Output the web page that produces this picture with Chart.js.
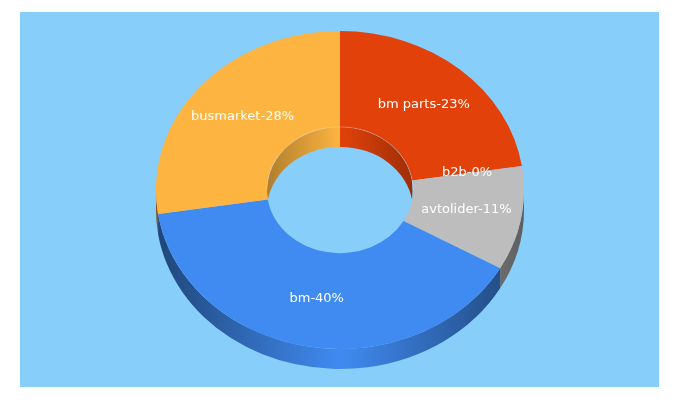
<!DOCTYPE html>
<html>
<head>
<meta charset="utf-8">
<style>
html,body{margin:0;padding:0;background:#fff;}
#wrap{position:relative;width:680px;height:400px;overflow:hidden;}
#panel{position:absolute;left:20px;top:12px;width:639px;height:375px;background:#87cefa;}
canvas{position:absolute;left:0;top:0;}
</style>
<script src="https://cdn.jsdelivr.net/npm/chart.js@4/dist/chart.umd.min.js"></script>
</head>
<body>
<div id="wrap"><div id="panel"></div><canvas id="c" width="680" height="400"></canvas></div>
<script>
const categories = ["bm parts", "b2b", "avtolider", "bm", "busmarket"];
const sliceValues = [22.6, 0, 10.6, 39.4, 27.4];
const shownPercents = [23, 0, 11, 40, 28];
const sliceColors = ["#e2420a", "#999999", "#bdbdbd", "#408bf2", "#fdb441"];

const SQUASH = 159 / 184;
const DEPTH = 20;
const OUTER_EDGE = 0.5;
const INNER_EDGE = 0.7;
const LABEL_FONT = '13px "DejaVu Sans"';

function shade(hex, f) {
  const n = parseInt(hex.slice(1), 16);
  const r = Math.round(((n >> 16) & 255) * f);
  const g = Math.round(((n >> 8) & 255) * f);
  const b = Math.round((n & 255) * f);
  return `rgb(${r},${g},${b})`;
}
function wallGradient(ctx, cx, rx, color, edge) {
  const g = ctx.createLinearGradient(cx - rx, 0, cx + rx, 0);
  g.addColorStop(0, shade(color, edge));
  g.addColorStop(0.5, color);
  g.addColorStop(1, shade(color, edge));
  return g;
}
function wall(ctx, cx, cy, rx, ry, a1, a2, fill) {
  if (a2 <= a1) return;
  ctx.beginPath();
  ctx.ellipse(cx, cy, rx, ry, 0, a1, a2);
  ctx.ellipse(cx, cy + DEPTH, rx, ry, 0, a2, a1, true);
  ctx.closePath();
  ctx.fillStyle = fill;
  ctx.fill();
}

const ring3d = {
  id: "ring3d",
  beforeDatasetsDraw(chart) {
    const ctx = chart.ctx;
    const arcs = chart.getDatasetMeta(0).data;
    ctx.save();
    arcs.forEach((arc, i) => {
      const p = arc.getProps(["x", "y", "startAngle", "endAngle", "innerRadius", "outerRadius"], true);
      const col = sliceColors[i];
      // outer wall: front half of the ring
      wall(ctx, p.x, p.y, p.outerRadius, p.outerRadius * SQUASH,
        Math.max(p.startAngle, 0), Math.min(p.endAngle, Math.PI),
        wallGradient(ctx, p.x, p.outerRadius, col, OUTER_EDGE));
      // inner wall: back half of the hole, seen through the hole
      ctx.save();
      ctx.beginPath();
      ctx.ellipse(p.x, p.y, p.innerRadius, p.innerRadius * SQUASH, 0, 0, Math.PI * 2);
      ctx.clip();
      const s = p.startAngle < 0 ? p.startAngle + Math.PI * 2 : p.startAngle;
      const e = s + (p.endAngle - p.startAngle);
      wall(ctx, p.x, p.y, p.innerRadius, p.innerRadius * SQUASH,
        Math.max(s, Math.PI), Math.min(e, Math.PI * 2),
        wallGradient(ctx, p.x, p.innerRadius, col, INNER_EDGE));
      ctx.restore();
    });
    ctx.restore();
    // squash the top face of the ring into an ellipse
    const c = arcs[0];
    ctx.save();
    ctx.translate(0, c.y);
    ctx.scale(1, SQUASH);
    ctx.translate(0, -c.y);
  },
  afterDatasetsDraw(chart) {
    const ctx = chart.ctx;
    ctx.restore();
    const arcs = chart.getDatasetMeta(0).data;
    // faint rim along the back edge of the hole
    const c = arcs[0].getProps(["x", "y", "innerRadius"], true);
    ctx.save();
    ctx.beginPath();
    ctx.ellipse(c.x, c.y, c.innerRadius, c.innerRadius * SQUASH, 0, Math.PI, Math.PI * 2);
    ctx.strokeStyle = "rgba(255,255,255,0.22)";
    ctx.lineWidth = 1;
    ctx.stroke();
    ctx.restore();
    ctx.save();
    ctx.font = LABEL_FONT;
    ctx.fillStyle = "#ffffff";
    ctx.textAlign = "center";
    ctx.textBaseline = "middle";
    arcs.forEach((arc, i) => {
      const p = arc.getProps(["x", "y", "startAngle", "endAngle", "innerRadius", "outerRadius"], true);
      const mid = (p.startAngle + p.endAngle) / 2;
      const r = (p.innerRadius + p.outerRadius) / 2;
      const x = p.x + Math.cos(mid) * r;
      const y = p.y + Math.sin(mid) * r * SQUASH - 0.7;
      ctx.fillText(`${categories[i]}-${shownPercents[i]}%`, x, y);
    });
    ctx.restore();
  }
};

new Chart(document.getElementById("c"), {
  type: "doughnut",
  data: {
    labels: categories,
    datasets: [{
      data: sliceValues,
      backgroundColor: sliceColors,
      borderWidth: 0,
      hoverOffset: 0,
      clip: false
    }]
  },
  options: {
    responsive: false,
    devicePixelRatio: 1,
    animation: false,
    radius: 184,
    cutout: "39.7%",
    layout: { padding: { bottom: 20 } },
    events: [],
    plugins: { legend: { display: false }, tooltip: { enabled: false } }
  },
  plugins: [ring3d]
});
</script>
</body>
</html>
